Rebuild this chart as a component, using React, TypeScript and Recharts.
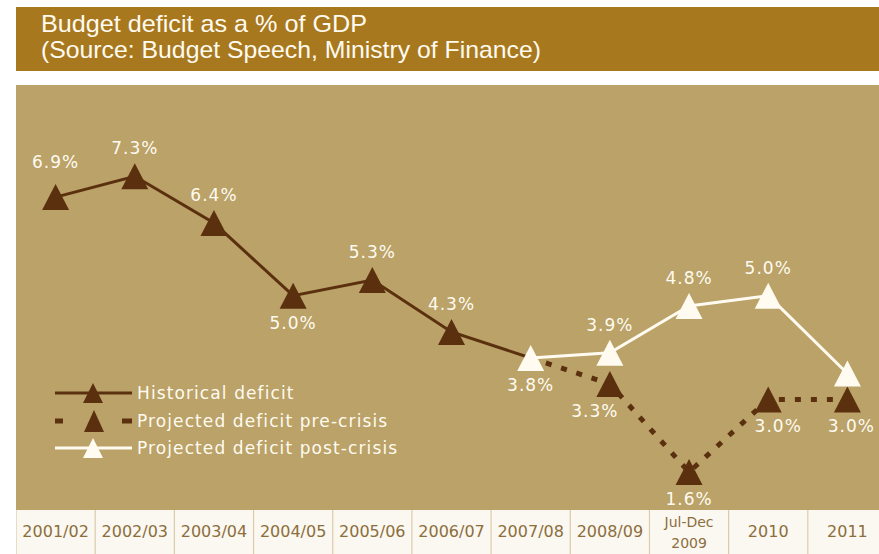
import React from 'react';
import { LineChart, Line, XAxis, YAxis, LabelList, Legend } from 'recharts';

const categories = ['2001/02', '2002/03', '2003/04', '2004/05', '2005/06', '2006/07', '2007/08', '2008/09', 'Jul-Dec 2009', '2010', '2011'];
const historical = [6.9, 7.3, 6.4, 5.0, 5.3, 4.3, 3.8, null, null, null, null];
const preCrisis = [null, null, null, null, null, null, 3.8, 3.3, 1.6, 3.0, 3.0];
const postCrisis = [null, null, null, null, null, null, 3.8, 3.9, 4.8, 5.0, 3.5];
const seriesNames = ['Historical deficit', 'Projected deficit pre-crisis', 'Projected deficit post-crisis'];
const titleLines = ['Budget deficit as a % of GDP', '(Source: Budget Speech, Ministry of Finance)'];

const data = categories.map((c, i) => ({ cat: c, hist: historical[i], pre: preCrisis[i], post: postCrisis[i] }));

const BAR = '#A8781F';
const TAN = '#BAA268';
const BROWN = '#5B300F';
const WHITE = '#FFFBF0';
const STRIP = '#FBF8F1';
const TICK = '#8C6E3C';
const FONT = "'DejaVu Sans', sans-serif";
const TITLE_FONT = "'Liberation Sans', Arial, sans-serif";

const CHART_W = 871;
const PAD = 39.6;
const STEP = (CHART_W - 2 * PAD) / (categories.length - 1);

const tri = (cx: number, cy: number, hw = 13.5, h = 13) =>
  `M${cx},${cy - h} L${cx + hw},${cy + h} L${cx - hw},${cy + h} Z`;

const makeDot = (fill: string, skip: number[]) => (props: any) => {
  const { cx, cy, index, value } = props;
  if (cx == null || cy == null || value == null || skip.includes(index)) return <g key={`d${index}`} />;
  return <path key={`d${index}`} d={tri(cx, cy)} fill={fill} />;
};

const makeLabel = (show: number[], below: number[], dxMap: Record<number, number>, dyMap: Record<number, number>) => (props: any) => {
  const { x, y, value, index } = props;
  if (value == null || !show.includes(index)) return null;
  const isBelow = below.includes(index);
  const ty = (isBelow ? y + 33 : y - 22) + (dyMap[index] || 0);
  return (
    <text x={x + (dxMap[index] || 0)} y={ty} textAnchor="middle" fill={WHITE} fontSize={17} fontFamily={FONT} letterSpacing={1}>
      {`${Number(value).toFixed(1)}%`}
    </text>
  );
};

const Tick = (props: any) => {
  const { x, y, payload, index } = props;
  const parts = String(payload.value).split(' ');
  return (
    <g>
      <line x1={x - STEP / 2} x2={x - STEP / 2} y1={y} y2={y + 44} stroke="#D9CCAA" strokeWidth={1.2} />
      {index === categories.length - 1 && (
        <line x1={x + STEP / 2} x2={x + STEP / 2} y1={y} y2={y + 44} stroke="#D9CCAA" strokeWidth={1.2} />
      )}
      {parts.length === 1 ? (
        <text x={x} y={y + 27} textAnchor="middle" fill={TICK} fontSize={16} fontFamily={FONT}>{parts[0]}</text>
      ) : (
        <text textAnchor="middle" fill={TICK} fontSize={14} fontFamily={FONT}>
          <tspan x={x} y={y + 17}>{parts[0]}</tspan>
          <tspan x={x} y={y + 38}>{parts[1]}</tspan>
        </text>
      )}
    </g>
  );
};

const LegendContent = () => {
  const rows = [18, 46, 73];
  return (
    <svg width={380} height={95} style={{ display: 'block' }}>
      <line x1={9} x2={86} y1={rows[0]} y2={rows[0]} stroke={BROWN} strokeWidth={3} />
      <path d={tri(47, rows[0], 10, 10)} fill={BROWN} />
      <line x1={9} x2={17} y1={rows[1]} y2={rows[1]} stroke={BROWN} strokeWidth={5} />
      <line x1={76} x2={86} y1={rows[1]} y2={rows[1]} stroke={BROWN} strokeWidth={5} />
      <path d={tri(48, rows[1], 10, 11)} fill={BROWN} />
      <line x1={9} x2={86} y1={rows[2]} y2={rows[2]} stroke={WHITE} strokeWidth={3} />
      <path d={tri(47, rows[2], 10, 10)} fill={WHITE} />
      {seriesNames.map((n, i) => (
        <text key={n} x={91} y={rows[i] + 6} fill={WHITE} fontSize={17} fontFamily={FONT} letterSpacing={1.1}>{n}</text>
      ))}
    </svg>
  );
};

export default function App() {
  return (
    <div style={{ position: 'absolute', left: 0, top: 0, width: 879, height: 554, overflow: 'hidden', background: '#FFFFFF' }}>
      <div style={{ position: 'absolute', left: 16, top: 7, width: 863, height: 64, background: BAR }} />
      <svg style={{ position: 'absolute', left: 0, top: 0 }} width={879} height={80}>
        <text x={41} y={32} fill={WHITE} fontSize={24} fontFamily={TITLE_FONT} textLength={326} lengthAdjust="spacingAndGlyphs">{titleLines[0]}</text>
        <text x={41} y={58} fill={WHITE} fontSize={24} fontFamily={TITLE_FONT} textLength={500} lengthAdjust="spacingAndGlyphs">{titleLines[1]}</text>
      </svg>
      <div style={{ position: 'absolute', left: 16, top: 85, width: 863, height: 425, background: TAN }} />
      <div style={{ position: 'absolute', left: 16, top: 510, width: 863, height: 44, background: STRIP }} />
      <div style={{ position: 'absolute', left: 16, top: 85 }}>
        <LineChart width={CHART_W} height={469} data={data} margin={{ top: 0, right: 0, bottom: 0, left: 0 }}>
          <XAxis dataKey="cat" height={44} padding={{ left: PAD, right: PAD }} axisLine={false} tickLine={false} tickSize={0} tickMargin={0} interval={0} tick={<Tick />} />
          <YAxis hide type="number" domain={[0.87, 9.06]} allowDataOverflow />
          <Legend layout="horizontal" verticalAlign="middle" align="center" wrapperStyle={{ left: 30, top: 290, width: 380, height: 95 }} content={() => <LegendContent />} />
          <Line name={seriesNames[0]} dataKey="hist" stroke={BROWN} strokeWidth={3} dot={makeDot(BROWN, [6])} activeDot={false} isAnimationActive={false}>
            <LabelList dataKey="hist" content={makeLabel([0, 1, 2, 3, 4, 5, 6], [3, 6], {}, { 0: -7 })} />
          </Line>
          <Line name={seriesNames[1]} dataKey="pre" stroke={BROWN} strokeWidth={5} strokeDasharray="6 10" strokeLinecap="butt" dot={makeDot(BROWN, [6])} activeDot={false} isAnimationActive={false}>
            <LabelList dataKey="pre" content={makeLabel([7, 8, 9, 10], [7, 8, 9, 10], { 7: -15, 9: 10, 10: 4 }, {})} />
          </Line>
          <Line name={seriesNames[2]} dataKey="post" stroke={WHITE} strokeWidth={3} dot={makeDot(WHITE, [])} activeDot={false} isAnimationActive={false}>
            <LabelList dataKey="post" content={makeLabel([7, 8, 9], [], {}, {})} />
          </Line>
        </LineChart>
      </div>
    </div>
  );
}
